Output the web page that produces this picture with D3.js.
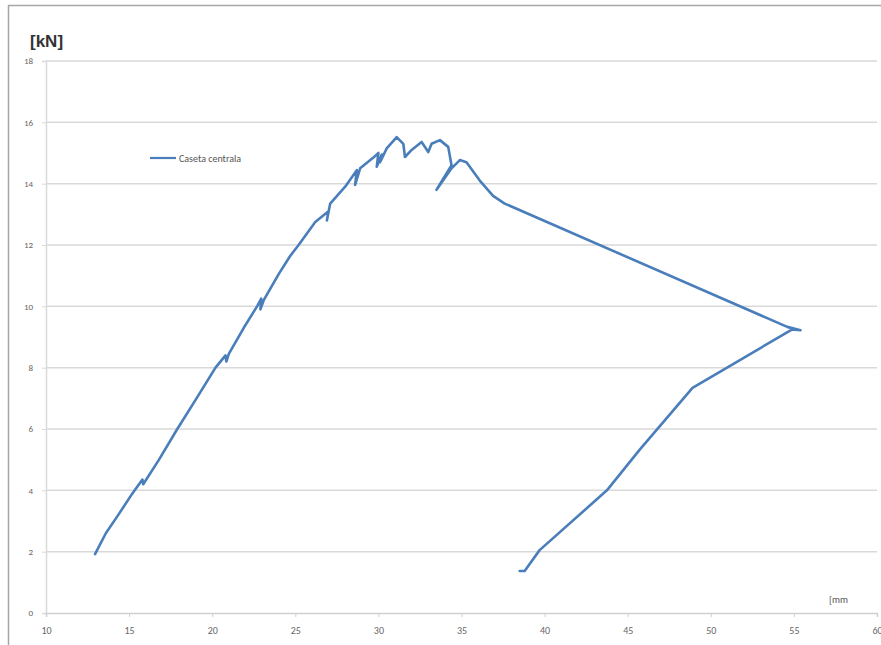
<!DOCTYPE html>
<html>
<head>
<meta charset="utf-8">
<script src="https://cdn.jsdelivr.net/npm/d3@7"></script>
<style>
  body { margin: 0; background: #fff; }
  svg { display: block; }
</style>
</head>
<body>
<div id="chart"></div>
<script>
// deplasare [mm] si forta [kN]
var seriesName = "Caseta centrala";
var deplasare = [12.95, 13.6, 14.35, 15.2, 15.8, 15.85, 16.8, 17.9, 19.0, 20.2, 20.8, 20.85, 21.0, 21.9, 22.7,
  22.95, 22.9, 23.1, 24.0, 24.7, 25.2, 26.2, 27.0, 26.9, 27.1, 28.0, 28.7, 28.6, 28.9, 29.7, 30.0, 29.9, 30.2, 30.1,
  30.5, 31.1, 31.5, 31.6, 32.0, 32.6, 33.0, 33.2, 33.7, 34.2, 34.4, 33.5, 34.4, 34.9, 35.3, 36.1, 36.9, 37.6,
  54.6, 55.4, 54.9, 48.9, 45.7, 43.75, 39.7, 39.1, 38.8, 38.5];
var forta = [1.92, 2.6, 3.2, 3.9, 4.35, 4.2, 5.0, 6.0, 6.95, 8.0, 8.4, 8.2, 8.45, 9.3, 10.0,
  10.25, 9.9, 10.2, 11.05, 11.65, 12.0, 12.75, 13.1, 12.8, 13.35, 13.9, 14.44, 13.96, 14.5, 14.85, 15.0, 14.55, 14.95, 14.7,
  15.15, 15.52, 15.3, 14.87, 15.1, 15.36, 15.03, 15.3, 15.42, 15.2, 14.6, 13.8, 14.5, 14.77, 14.7, 14.1, 13.6, 13.35,
  9.33, 9.22, 9.25, 7.34, 5.31, 4.0, 2.05, 1.6, 1.37, 1.37];
var xTicks = [10, 15, 20, 25, 30, 35, 40, 45, 50, 55, 60];
var yTicks = [0, 2, 4, 6, 8, 10, 12, 14, 16, 18];

var width = 881, height = 645;
var plot = { left: 46, right: 877, top: 61, bottom: 613 };

var svg = d3.select("#chart").append("svg")
  .attr("width", width)
  .attr("height", height);

// chenarul graficului
svg.append("rect")
  .attr("x", 8.5).attr("y", 5.5)
  .attr("width", width + 20).attr("height", height + 20)
  .style("fill", "none")
  .style("stroke", "#a6a6a6")
  .style("stroke-width", 1.5);

var x = d3.scaleLinear().domain([10, 60]).range([plot.left, plot.right]);
var y = d3.scaleLinear().domain([0, 18]).range([plot.bottom, plot.top]);

// linii de grila orizontale
svg.append("g")
  .selectAll("line")
  .data(yTicks.filter(function (d) { return d > 0; }))
  .enter().append("line")
  .attr("x1", plot.left).attr("x2", plot.right)
  .attr("y1", function (d) { return y(d); })
  .attr("y2", function (d) { return y(d); })
  .style("stroke", "#d9d9d9")
  .style("stroke-width", 1.5);

// axa Y
var yAxis = svg.append("g")
  .attr("transform", "translate(" + plot.left + ",0)")
  .call(d3.axisLeft(y).tickValues(yTicks).tickSize(4).tickPadding(9));
yAxis.select(".domain").style("stroke", "#d9d9d9").style("stroke-width", 1.5);
yAxis.selectAll(".tick line").style("stroke", "#d9d9d9");
yAxis.selectAll("text")
  .style("font-family", "Calibri, Carlito, 'Liberation Sans', sans-serif")
  .style("font-size", "9px")
  .style("fill", "#666");

// axa X
var xAxis = svg.append("g")
  .attr("transform", "translate(0," + plot.bottom + ")")
  .call(d3.axisBottom(x).tickValues(xTicks).tickSize(4).tickPadding(10));
xAxis.select(".domain").style("stroke", "#d0d0d0").style("stroke-width", 1.5);
xAxis.selectAll(".tick line").style("stroke", "#d0d0d0");
xAxis.selectAll("text")
  .style("font-family", "Calibri, Carlito, 'Liberation Sans', sans-serif")
  .style("font-size", "10px")
  .style("fill", "#666");

// curba forta-deplasare
var points = deplasare.map(function (d, i) { return [d, forta[i]]; });
var line = d3.line()
  .x(function (d) { return x(d[0]); })
  .y(function (d) { return y(d[1]); })
  .curve(d3.curveLinear);

svg.append("path")
  .datum(points)
  .attr("d", line)
  .style("fill", "none")
  .style("stroke", "#4a7ebb")
  .style("stroke-width", 2.6)
  .style("stroke-linejoin", "round")
  .style("stroke-linecap", "round");

// legenda
svg.append("line")
  .attr("x1", 150).attr("x2", 176)
  .attr("y1", 158).attr("y2", 158)
  .style("stroke", "#4a7ebb")
  .style("stroke-width", 2.2);
svg.append("text")
  .attr("x", 179).attr("y", 161.5)
  .text(seriesName)
  .style("font-family", "Calibri, Carlito, 'Liberation Sans', sans-serif")
  .style("font-size", "10px")
  .style("fill", "#555");

// unitati
svg.append("text")
  .attr("x", 30).attr("y", 47)
  .text("[kN]")
  .style("font-family", "'Liberation Sans', Arial, sans-serif")
  .style("font-weight", "bold")
  .style("font-size", "17px")
  .style("fill", "#333");

svg.append("text")
  .attr("x", 829).attr("y", 603)
  .text("[mm")
  .style("font-family", "Calibri, Carlito, 'Liberation Sans', sans-serif")
  .style("font-size", "10px")
  .style("fill", "#555");
</script>
</body>
</html>
